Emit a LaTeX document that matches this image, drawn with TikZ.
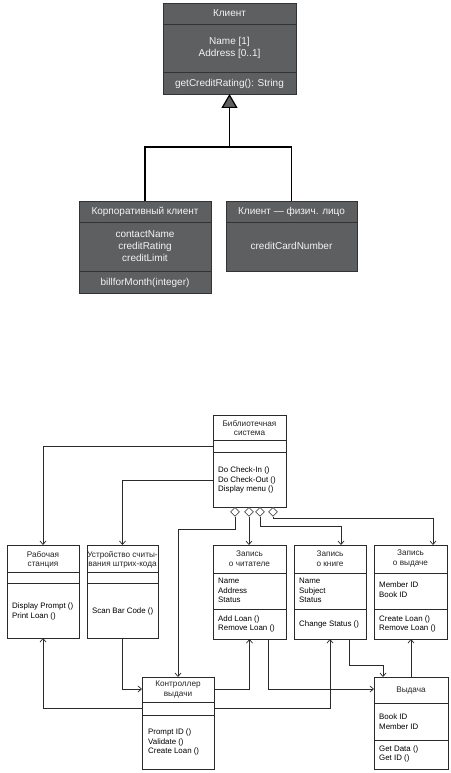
\documentclass[tikz,border=0pt]{standalone}
\usepackage{fontspec}
\setmainfont{Liberation Sans}
\usetikzlibrary{arrows.meta,shapes.geometric,fit}
\definecolor{boxgray}{HTML}{5E5F61}
\definecolor{boxline}{HTML}{333333}
\definecolor{txtw}{HTML}{F4F4F4}
\definecolor{ln}{HTML}{2A2A2A}
\tikzset{
 darkbox/.style={fill=boxgray, draw=boxline, line width=0.9pt, inner sep=0pt, outer sep=0pt},
 darkdiv/.style={draw=boxline, line width=0.9pt},
 wtxt/.style={text=txtw, font=\fontsize{10}{12}\selectfont, align=center, inner sep=0pt},
 gen/.style={draw=black, line width=1.2pt, -{Triangle[fill=boxgray, length=14pt, width=16pt]}},
 genline/.style={draw=black, line width=1.2pt},
 libbox/.style={draw=ln, line width=0.7pt, inner sep=0pt, outer sep=0pt, fill=white},
 libdiv/.style={draw=ln, line width=0.7pt},
 hdr/.style={font=\fontsize{8.2}{9.5}\selectfont, align=center, inner sep=0pt, text=black!85},
 lbl/.style={font=\fontsize{7.9}{9.8}\selectfont, align=left, inner sep=0pt, anchor=west},
 conn/.style={draw=ln, line width=0.7pt},
 arr/.style={conn, -{Straight Barb[length=3.5pt, width=6pt]}},
 agg/.style={diamond, draw=ln, line width=0.6pt, fill=white, minimum width=9pt, minimum height=9pt, inner sep=0pt, anchor=north},
}
\begin{document}
\begin{tikzpicture}[x=1pt,y=-1pt]
\useasboundingbox (0,0) rectangle (450,773);
\fill[white] (0,0) rectangle (450,773);

% ---------- top part ----------
\node[darkbox, fit={(163,3) (296,94)}] (client) {};
\draw[darkdiv] (client.west |- 0,24) -- (client.east |- 0,24);
\draw[darkdiv] (client.west |- 0,72) -- (client.east |- 0,72);
\node[wtxt] (clientH) at (229.5,13.5) {Клиент};
\node[wtxt] (clientA) at (229.5,48) {Name [1]\\Address [0..1]};
\node[wtxt] (clientM) at (229.5,84) {getCreditRating(): String};

\node[darkbox, fit={(79,201) (211,293)}] (corp) {};
\draw[darkdiv] (corp.west |- 0,222) -- (corp.east |- 0,222);
\draw[darkdiv] (corp.west |- 0,271) -- (corp.east |- 0,271);
\node[wtxt] (corpH) at (145,212) {Корпоративный клиент};
\node[wtxt] (corpA) at (145,246) {contactName\\creditRating\\creditLimit};
\node[wtxt] (corpM) at (145,282.5) {billforMonth(integer)};

\node[darkbox, fit={(226,201) (357,271)}] (ind) {};
\draw[darkdiv] (ind.west |- 0,222) -- (ind.east |- 0,222);
\node[wtxt] (indH) at (291.5,212) {Клиент — физич. лицо};
\node[wtxt] (indA) at (291.5,246) {creditCardNumber};

\draw[gen] (client.south |- 0,147) -- (client.south);
\draw[genline] (corp.north) |- (ind.north |- 0,147) -- (ind.north);

% ---------- bottom part ----------
\node[libbox, fit={(213,415) (286,507)}] (lib) {};
\draw[libdiv] (lib.west |- 0,440) -- (lib.east |- 0,440);
\draw[libdiv] (lib.west |- 0,452) -- (lib.east |- 0,452);
\node[hdr] (libH) at (249.5,428) {Библиотечная\\система};
\node[lbl] (libM) at (218,480) {Do Check-In ()\\Do Check-Out ()\\Display menu ()};

\node[libbox, fit={(7,545) (79,638)}] (ws) {};
\draw[libdiv] (ws.west |- 0,572) -- (ws.east |- 0,572);
\draw[libdiv] (ws.west |- 0,583) -- (ws.east |- 0,583);
\node[hdr] (wsH) at (43,560) {Рабочая\\станция};
\node[lbl] (wsM) at (12,611.5) {Display Prompt ()\\Print Loan ()};

\node[libbox, fit={(87,545) (158,638)}] (sc) {};
\draw[libdiv] (sc.west |- 0,572) -- (sc.east |- 0,572);
\draw[libdiv] (sc.west |- 0,583) -- (sc.east |- 0,583);
\node[hdr] (scH) at (122.5,560) {Устройство считы-\\вания штрих-кода};
\node[lbl] (scM) at (92,611) {Scan Bar Code ()};

\node[libbox, fit={(213,545) (286,639)}] (mr) {};
\draw[libdiv] (mr.west |- 0,573) -- (mr.east |- 0,573);
\draw[libdiv] (mr.west |- 0,609) -- (mr.east |- 0,609);
\node[hdr] (mrH) at (249.5,558.5) {Запись\\о читателе};
\node[lbl] (mrA) at (218,590.5) {Name\\Address\\Status};
\node[lbl] (mrM) at (218,624) {Add Loan ()\\Remove Loan ()};

\node[libbox, fit={(294,545) (366,639)}] (bk) {};
\draw[libdiv] (bk.west |- 0,573) -- (bk.east |- 0,573);
\draw[libdiv] (bk.west |- 0,609) -- (bk.east |- 0,609);
\node[hdr] (bkH) at (330,558.5) {Запись\\о книге};
\node[lbl] (bkA) at (299,590.5) {Name\\Subject\\Status};
\node[lbl] (bkM) at (299,624) {Change Status ()};

\node[libbox, fit={(374,545) (447,639)}] (ld) {};
\draw[libdiv] (ld.west |- 0,573) -- (ld.east |- 0,573);
\draw[libdiv] (ld.west |- 0,609) -- (ld.east |- 0,609);
\node[hdr] (ldH) at (410.5,558.5) {Запись\\о выдаче};
\node[lbl] (ldA) at (379,589.5) {Member ID\\Book ID};
\node[lbl] (ldM) at (379,624) {Create Loan ()\\Remove Loan ()};

\node[libbox, fit={(142,677) (214,769)}] (ctl) {};
\draw[libdiv] (ctl.west |- 0,702) -- (ctl.east |- 0,702);
\draw[libdiv] (ctl.west |- 0,715) -- (ctl.east |- 0,715);
\node[hdr] (ctlH) at (178,689.5) {Контроллер\\выдачи};
\node[lbl] (ctlM) at (148,742) {Prompt ID ()\\Validate ()\\Create Loan ()};

\node[libbox, fit={(374,677) (448,769)}] (vy) {};
\draw[libdiv] (vy.west |- 0,703) -- (vy.east |- 0,703);
\draw[libdiv] (vy.west |- 0,740) -- (vy.east |- 0,740);
\node[hdr] (vyH) at (411,690) {Выдача};
\node[lbl] (vyA) at (379,721.5) {Book ID\\Member ID};
\node[lbl] (vyM) at (379,754) {Get Data ()\\Get ID ()};

% aggregation diamonds
\node[agg] (d1) at (235,507) {};
\node[agg] (d2) at (249,507) {};
\node[agg] (d3) at (260,507) {};
\node[agg] (d4) at (273,507) {};

% connectors
\draw[arr] (lib.west |- 0,446) -| (ws.north);
\draw[arr] (lib.west |- 0,480) -| (sc.north);
\draw[arr] (d1.south) -- ++(0,13) -| (ctl.north);
\draw[arr] (d2.south) -- (d2.south |- mr.north);
\draw[arr] (d3.south) -- ++(0,10) -| (bk.north -| 341,0);
\draw[arr] (d4.south) -- ++(0,1.5) -| (ld.north -| 433,0);

\draw[arr] (ctl.west |- 0,708) -| (ws.south);
\draw[arr] (sc.south) |- (ctl.west |- 0,689);
\draw[arr] (ctl.east |- 0,689) -| (mr.south);
\draw[arr] (mr.south -| 268,0) |- (vy.west |- 0,689);
\draw[arr] (ctl.east |- 0,708) -| (bk.south);
\draw[arr] (bk.south -| 349,0) |- (383,665) -- (vy.north -| 383,0);
\draw[arr] (vy.north) -- (vy.north |- ld.south);
\end{tikzpicture}
\end{document}
